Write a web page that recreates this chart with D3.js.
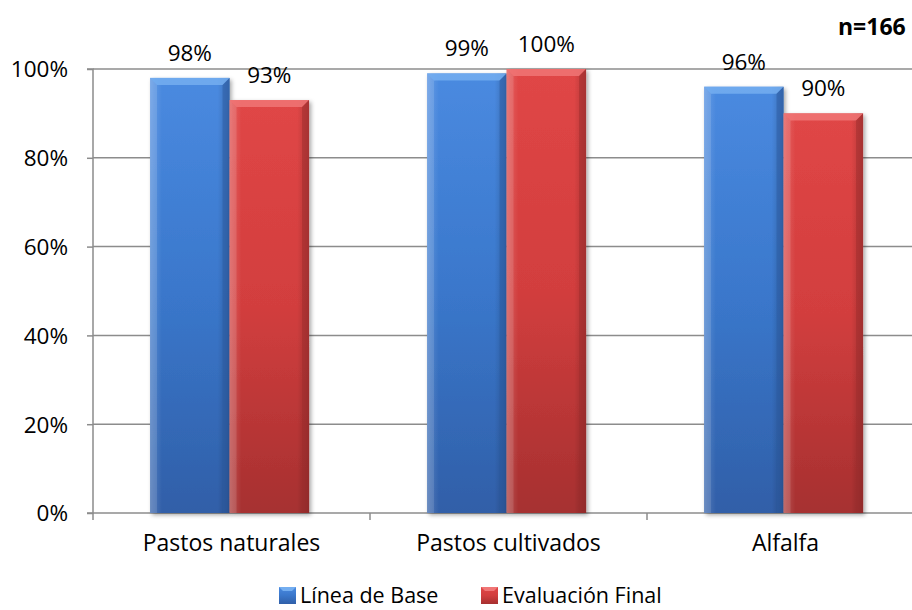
<!DOCTYPE html>
<html><head><meta charset="utf-8">
<script src="https://cdn.jsdelivr.net/npm/d3@7"></script>
<style>body{margin:0;background:#fff}svg{display:block}text{font-family:"Open Sans",sans-serif;fill:#000}</style>
</head><body><svg id="c" width="912" height="610"></svg>
<script>
const categories = ["Pastos naturales","Pastos cultivados","Alfalfa"];
const seriesNames = ["Línea de Base","Evaluación Final"];
const lineaBase = [0.98, 0.99, 0.96];
const evaluacionFinal = [0.93, 1.00, 0.90];
const yTicks = [0, 0.2, 0.4, 0.6, 0.8, 1.0];
const nLabel = "n=166";

(function(){
const svg = d3.select("#c");
const pLeft = 93, pRight = 924, pTop = 69, pBottom = 513;
const x = d3.scaleBand().domain(categories).range([pLeft, pRight]).padding(0);
const xs = d3.scaleBand().domain(seriesNames).range([x.bandwidth()*0.206, x.bandwidth()*0.78]).padding(0);
const y = d3.scaleLinear().domain([0,1]).range([pBottom, pTop]);

const defs = svg.append("defs");
const pal = {
  "Línea de Base": {top:"#4a8ae0", mid:"#3a77cb", bot:"#305fa8", hi:"#74aef0", side:"#2c5aa0"},
  "Evaluación Final": {top:"#e04646", mid:"#d23e3e", bot:"#a63030", hi:"#f07676", side:"#9e2e2e"}
};
seriesNames.forEach((s,i)=>{
  const g = defs.append("linearGradient").attr("id","g"+i).attr("x1",0).attr("y1",0).attr("x2",0).attr("y2",1);
  g.append("stop").attr("offset","0%").attr("stop-color",pal[s].top);
  g.append("stop").attr("offset","50%").attr("stop-color",pal[s].mid);
  g.append("stop").attr("offset","100%").attr("stop-color",pal[s].bot);
  const h = defs.append("linearGradient").attr("id","h"+i).attr("x1",0).attr("y1",0).attr("x2",1).attr("y2",0);
  h.append("stop").attr("offset","0%").attr("stop-color","#fff").attr("stop-opacity",0.18);
  h.append("stop").attr("offset","15%").attr("stop-color","#fff").attr("stop-opacity",0.0);
  h.append("stop").attr("offset","85%").attr("stop-color","#000").attr("stop-opacity",0.0);
  h.append("stop").attr("offset","100%").attr("stop-color","#000").attr("stop-opacity",0.2);
});
const f = defs.append("filter").attr("id","sh").attr("x","-10%").attr("y","-10%").attr("width","130%").attr("height","130%");
f.append("feDropShadow").attr("dx",2).attr("dy",2).attr("stdDeviation",2).attr("flood-color","#000").attr("flood-opacity",0.35);

// gridlines
svg.append("g").selectAll("line").data(yTicks.filter(d=>d>0)).join("line")
  .attr("x1",pLeft).attr("x2",912).attr("y1",d=>y(d)).attr("y2",d=>y(d))
  .attr("stroke","#8c8c8c").attr("stroke-width",1.5);

// y axis
const ya = svg.append("g").attr("transform",`translate(${pLeft},0)`)
  .call(d3.axisLeft(y).tickValues(yTicks).tickFormat(d3.format(".0%")).tickSize(6).tickPadding(19));
ya.select(".domain").attr("stroke","#8c8c8c").attr("stroke-width",1.5).attr("d",`M-6,${pTop}H0V${pBottom}H-6`);
ya.selectAll(".tick line").attr("stroke","#8c8c8c").attr("stroke-width",1.5);
ya.selectAll(".tick text").style("font-size","22.5px").attr("fill","#000").attr("dy","0.35em");

// x axis
const xa = svg.append("g").attr("transform",`translate(0,${pBottom})`)
  .call(d3.axisBottom(x).tickSize(0).tickPadding(22));
xa.select(".domain").attr("stroke","#8c8c8c").attr("stroke-width",1.5).attr("d",`M${pLeft},0H912`);
xa.selectAll(".tick text").style("font-size","23px").attr("fill","#000");
svg.append("g").selectAll("line").data(categories).join("line")
  .attr("x1",d=>x(d)).attr("x2",d=>x(d)).attr("y1",pBottom).attr("y2",pBottom+7)
  .attr("stroke","#8c8c8c").attr("stroke-width",1.5);

// bars
const data = categories.flatMap((c,ci)=>[
  {c, s:seriesNames[0], i:0, v:lineaBase[ci]},
  {c, s:seriesNames[1], i:1, v:evaluacionFinal[ci]}
]);
const bv = 7;
const bars = svg.append("g").selectAll("g").data(data).join("g");
bars.each(function(d){
  const g = d3.select(this);
  const x0 = x(d.c)+xs(d.s), w = xs.bandwidth(), y0 = y(d.v), h = y(0)-y(d.v);
  g.append("rect").attr("x",x0).attr("y",y0).attr("width",w).attr("height",h)
    .attr("fill",`url(#g${d.i})`).attr("filter","url(#sh)");
  g.append("rect").attr("x",x0).attr("y",y0).attr("width",w).attr("height",h).attr("fill",`url(#h${d.i})`);
  g.append("path").attr("d",`M${x0},${y0}H${x0+w}L${x0+w-bv},${y0+bv}H${x0+bv}Z`).attr("fill",pal[d.s].hi).attr("opacity",0.85);
  g.append("path").attr("d",`M${x0},${y0}L${x0+bv},${y0+bv}V${y0+h}H${x0}Z`).attr("fill","#fff").attr("opacity",0.12);
  g.append("path").attr("d",`M${x0+w},${y0}L${x0+w-bv},${y0+bv}V${y0+h}H${x0+w}Z`).attr("fill",pal[d.s].side).attr("opacity",0.5);
});
svg.append("g").selectAll("text").data(data).join("text")
  .attr("x",d=>x(d.c)+xs(d.s)+xs.bandwidth()/2).attr("y",d=>y(d.v)-17)
  .attr("text-anchor","middle").style("font-size","22.5px")
  .text(d=>d3.format(".0%")(d.v));

// n label
svg.append("text").attr("x",838).attr("y",35).style("font-size","23px").style("font-weight","bold").text(nLabel);

// legend
const legX = [279, 481];
const lg = svg.append("g").selectAll("g").data(seriesNames).join("g")
  .attr("transform",(d,i)=>`translate(${legX[i]},0)`);
lg.append("rect").attr("x",0).attr("y",587).attr("width",17).attr("height",17).attr("fill",(d,i)=>`url(#g${i})`);
lg.append("path").attr("d","M0,587H17L13,591H4Z").attr("fill",d=>pal[d].hi);
lg.append("text").attr("x",21).attr("y",603).style("font-size","21.5px").text(d=>d);
})();
</script></body></html>
